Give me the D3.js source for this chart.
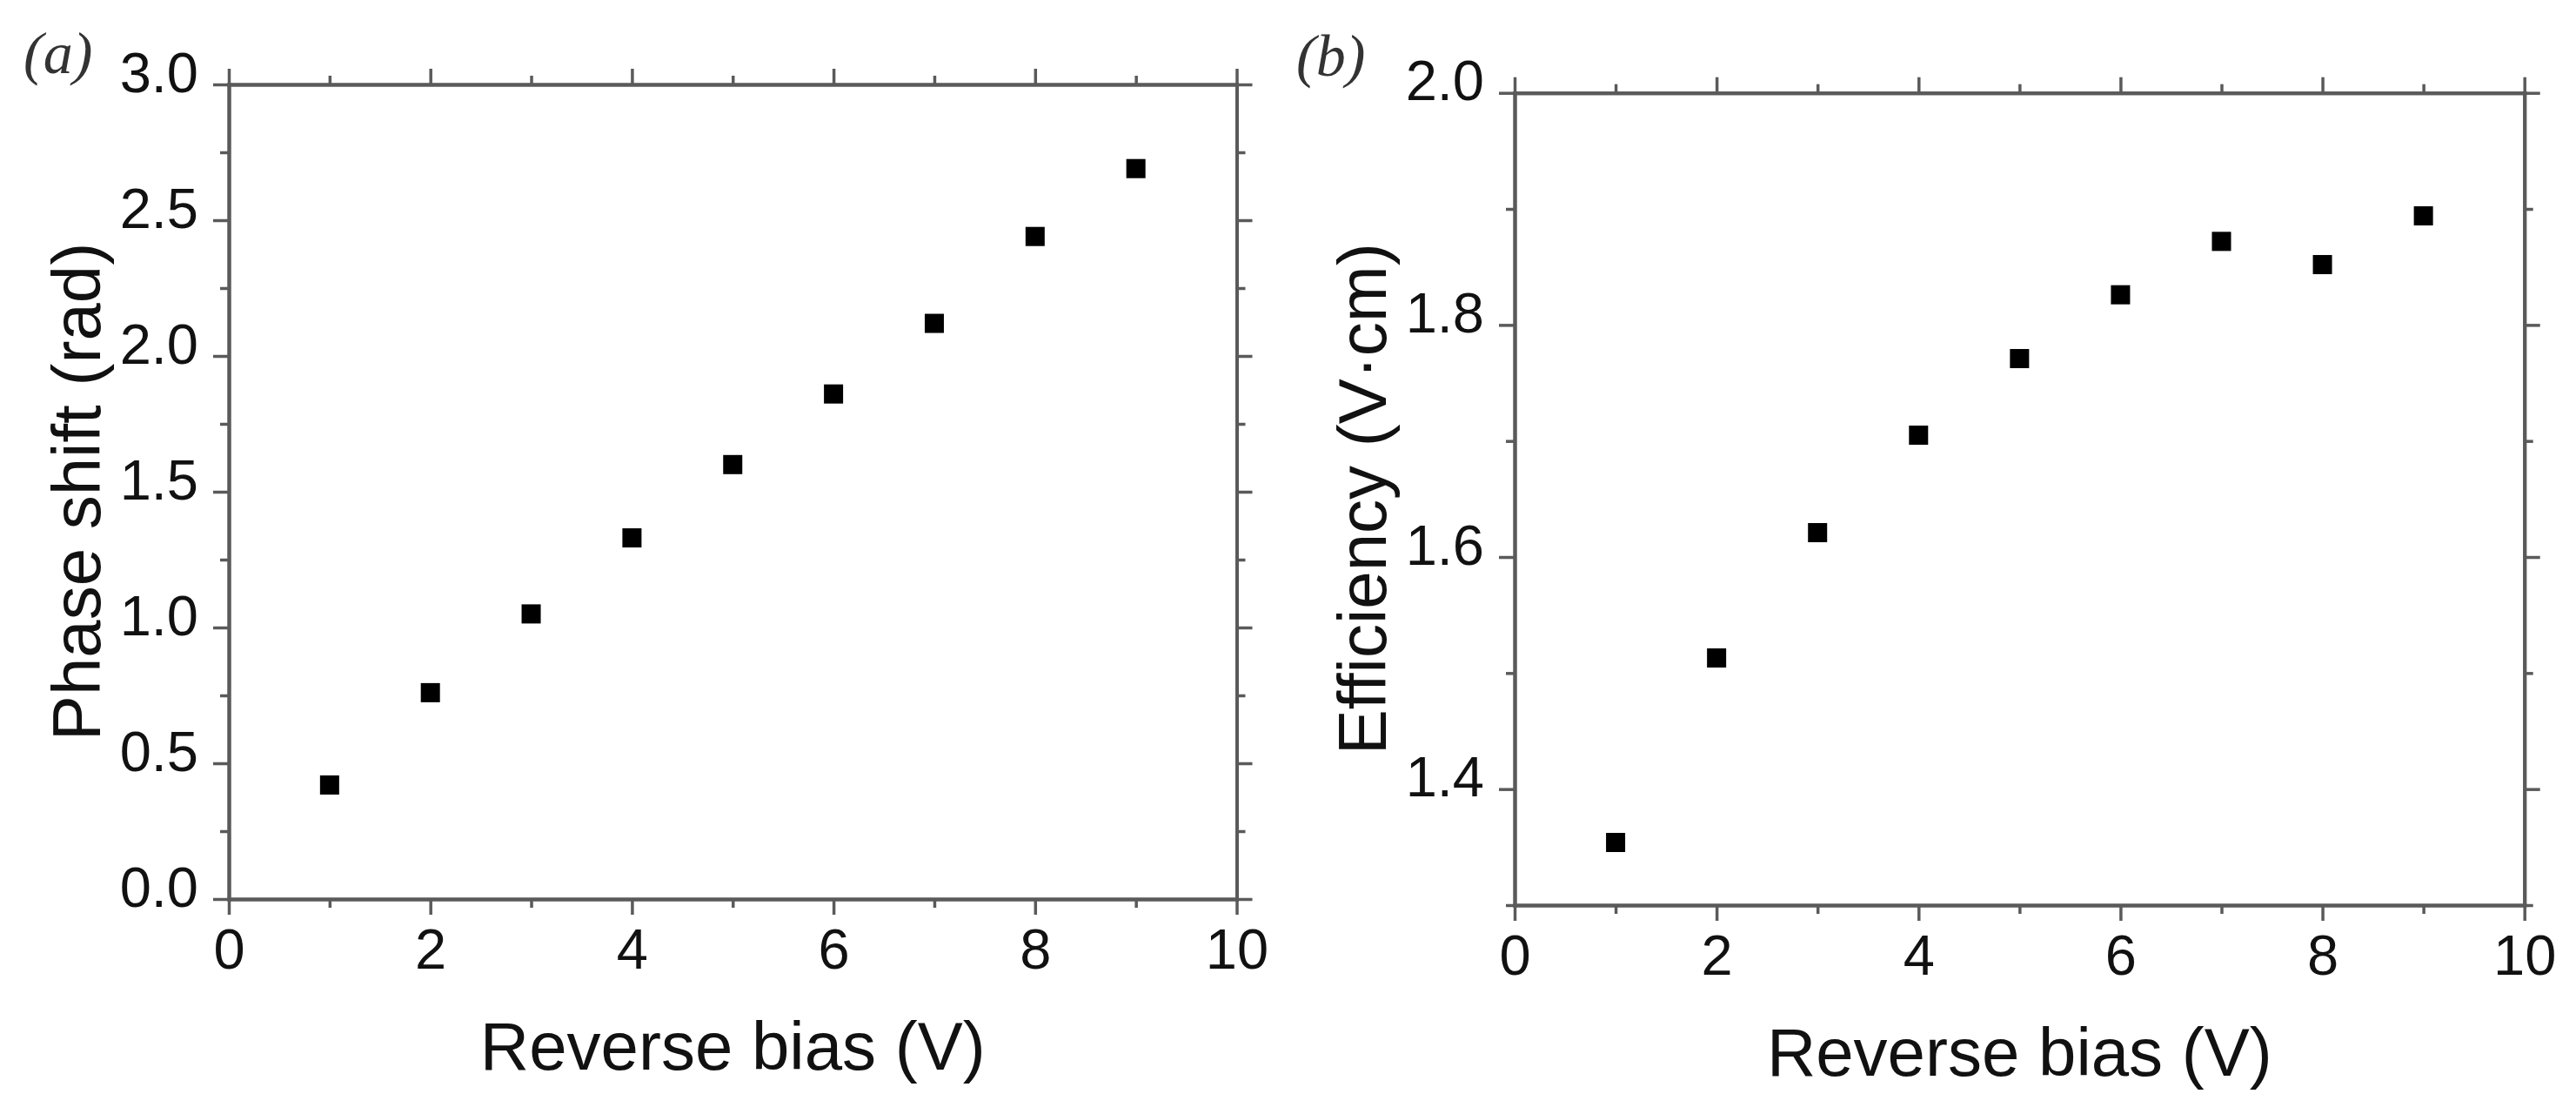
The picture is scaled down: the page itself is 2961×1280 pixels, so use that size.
<!DOCTYPE html>
<html>
<head>
<meta charset="utf-8">
<script src="https://cdn.jsdelivr.net/npm/d3@7"></script>
<style>
  html, body { margin: 0; padding: 0; background: #fff; }
  svg { display: block; }
</style>
</head>
<body>
<svg id="chart" width="2961" height="1280"></svg>
<script>
// ---- data ----
const reverseBias = [1, 2, 3, 4, 5, 6, 7, 8, 9];
const phaseShift = [0.42, 0.76, 1.05, 1.33, 1.60, 1.86, 2.12, 2.44, 2.69];
const efficiency = [1.354, 1.513, 1.621, 1.705, 1.771, 1.826, 1.872, 1.852, 1.894];

const xMajorTicks = [0, 2, 4, 6, 8, 10];
const xMinorTicks = [1, 3, 5, 7, 9];
const phaseMajorTicks = [0.0, 0.5, 1.0, 1.5, 2.0, 2.5, 3.0];
const phaseMinorTicks = [0.25, 0.75, 1.25, 1.75, 2.25, 2.75];
const effMajorTicks = [1.4, 1.6, 1.8, 2.0];
const effMinorTicks = [1.3, 1.5, 1.7, 1.9];

const panels = [
  {
    tag: "(a)", tagX: 27, tagY: 84,
    left: 263, right: 1421.5, top: 97, bottom: 1033,
    yDomain: [0, 3.0], yMajor: phaseMajorTicks, yMinor: phaseMinorTicks,
    yFmt: d3.format(".1f"), values: phaseShift,
    yTitle: "Phase shift (rad)", xTitle: "Reverse bias (V)"
  },
  {
    tag: "(b)", tagX: 1490, tagY: 87,
    left: 1741, right: 2901.7, top: 106.7, bottom: 1040,
    yDomain: [1.3, 2.0], yMajor: effMajorTicks, yMinor: effMinorTicks,
    yFmt: d3.format(".1f"), values: efficiency,
    yTitle: "Efficiency (V\u00B7cm)", xTitle: "Reverse bias (V)"
  }
];

const SANS = "'Liberation Sans', Arial, sans-serif";
const SERIF = "'Liberation Serif', 'Times New Roman', serif";

const svg = d3.select("#chart");
svg.append("rect").attr("width", 2961).attr("height", 1280).attr("fill", "#fff");

const AXIS_COLOR = "#5a5a5a";
const MAJOR = 18, MINOR = 10;

function styleAxis(g) {
  g.selectAll(".domain").attr("stroke", AXIS_COLOR).attr("stroke-width", 4).attr("stroke-linecap", "square");
  g.selectAll(".tick line").attr("stroke", AXIS_COLOR).attr("stroke-width", 3.5);
  g.selectAll("text").attr("fill", "#111").style("font-family", SANS).style("font-size", "65px");
}

panels.forEach(p => {
  const x = d3.scaleLinear().domain([0, 10]).range([p.left, p.right]);
  const y = d3.scaleLinear().domain(p.yDomain).range([p.bottom, p.top]);
  const g = svg.append("g");

  // minor ticks (all four sides)
  g.append("g").attr("transform", `translate(0,${p.bottom})`)
    .call(d3.axisBottom(x).tickValues(xMinorTicks).tickSize(MINOR).tickSizeOuter(0).tickFormat(""))
    .call(styleAxis);
  g.append("g").attr("transform", `translate(0,${p.top})`)
    .call(d3.axisTop(x).tickValues(xMinorTicks).tickSize(MINOR).tickSizeOuter(0).tickFormat(""))
    .call(styleAxis);
  g.append("g").attr("transform", `translate(${p.left},0)`)
    .call(d3.axisLeft(y).tickValues(p.yMinor).tickSize(MINOR).tickSizeOuter(0).tickFormat(""))
    .call(styleAxis);
  g.append("g").attr("transform", `translate(${p.right},0)`)
    .call(d3.axisRight(y).tickValues(p.yMinor).tickSize(MINOR).tickSizeOuter(0).tickFormat(""))
    .call(styleAxis);

  // major ticks
  const bx = g.append("g").attr("transform", `translate(0,${p.bottom})`)
    .call(d3.axisBottom(x).tickValues(xMajorTicks).tickSize(MAJOR).tickSizeOuter(0).tickFormat(d3.format("d")))
    .call(styleAxis);
  bx.selectAll("text").attr("dy", 0).attr("y", 80);

  g.append("g").attr("transform", `translate(0,${p.top})`)
    .call(d3.axisTop(x).tickValues(xMajorTicks).tickSize(MAJOR).tickSizeOuter(0).tickFormat(""))
    .call(styleAxis);

  const ly = g.append("g").attr("transform", `translate(${p.left},0)`)
    .call(d3.axisLeft(y).tickValues(p.yMajor).tickSize(MAJOR).tickPadding(17).tickSizeOuter(0).tickFormat(p.yFmt))
    .call(styleAxis);
  ly.selectAll("text").attr("dy", 8);

  g.append("g").attr("transform", `translate(${p.right},0)`)
    .call(d3.axisRight(y).tickValues(p.yMajor).tickSize(MAJOR).tickSizeOuter(0).tickFormat(""))
    .call(styleAxis);

  // markers
  const S = 22;
  g.append("g").selectAll("rect").data(reverseBias.map((b, i) => [b, p.values[i]]))
    .join("rect")
    .attr("x", d => x(d[0]) - S / 2)
    .attr("y", d => y(d[1]) - S / 2)
    .attr("width", S).attr("height", S)
    .attr("fill", "#000");

  // axis titles
  g.append("text")
    .attr("x", (p.left + p.right) / 2)
    .attr("y", p.bottom + 196)
    .attr("text-anchor", "middle")
    .style("font-family", SANS).style("font-size", "78px")
    .attr("fill", "#111")
    .text(p.xTitle);

  g.append("text")
    .attr("transform", `translate(${p.left - 148},${(p.top + p.bottom) / 2}) rotate(-90)`)
    .attr("text-anchor", "middle")
    .style("font-family", SANS).style("font-size", "78px")
    .attr("fill", "#111")
    .text(p.yTitle);

  // panel tag
  g.append("text")
    .attr("x", p.tagX).attr("y", p.tagY)
    .style("font-family", SERIF)
    .style("font-style", "italic")
    .style("font-size", "68px")
    .attr("fill", "#333")
    .text(p.tag);
});
</script>
</body>
</html>
